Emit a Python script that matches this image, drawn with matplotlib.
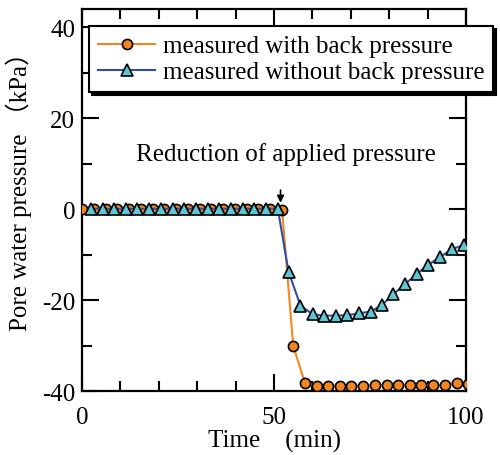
import numpy as np
import matplotlib
matplotlib.use("Agg")
import matplotlib.pyplot as plt
from matplotlib.ticker import MultipleLocator

plt.rcParams['font.family'] = ['Liberation Serif', 'Noto Sans CJK JP', 'DejaVu Sans']
plt.rcParams['axes.unicode_minus'] = False

# with back pressure (circles)
t_with = [0, 3.06, 6.12, 9.18, 12.24, 15.3, 18.36, 21.42, 24.48, 27.54, 30.6,
          33.66, 36.72, 39.78, 42.84, 45.9, 48.96, 52.1,
          55.0, 58.0, 61.1, 64.1, 67.1, 70.1, 73.2, 76.2, 79.3, 82.3, 85.4,
          88.4, 91.5, 94.5, 97.6, 100.6]
p_with = [0, 0, 0, 0, 0, 0, 0, 0, 0, 0, 0, 0, 0, 0, 0, 0, 0, -0.1,
          -30.0, -38.1, -38.8, -38.8, -38.8, -38.8, -38.8, -38.7, -38.7, -38.7,
          -38.7, -38.7, -38.7, -38.7, -38.2, -38.5]

# without back pressure (triangles)
t_without = [2.35, 5.4, 8.4, 11.5, 14.4, 17.5, 20.5, 23.6, 26.6, 29.7, 32.7,
             35.8, 38.8, 41.9, 44.9, 47.9, 51.0,
             53.8, 56.9, 60.1, 63.1, 66.1, 69.1, 72.1, 75.2, 78.2, 81.1, 84.1,
             87.2, 90.2, 93.3, 96.3, 99.6]
p_without = [0.1, 0.1, 0.1, 0.1, 0.1, 0.1, 0.1, 0.1, 0.1, 0.1, 0.1, 0.1, 0.1,
             0.1, 0.1, 0.1, 0.1,
             -13.8, -21.2, -23.1, -23.4, -23.4, -23.3, -22.9, -22.5, -21.0,
             -18.7, -16.5, -14.2, -12.2, -10.5, -8.8, -7.8]

fig = plt.figure(figsize=(5.0, 4.56), dpi=100)
ax = fig.add_axes([0.164, 0.140, 0.768, 0.838])

ax.plot(t_with, p_with, '-o', color='#F4861F', lw=1.5, ms=7.3,
        mfc='#F4861F', mec='black', mew=1.2, label='measured with back pressure',
        zorder=3)
ax.plot(t_without, p_without, '-^', color='#2E4FA3', lw=1.5, ms=9,
        mfc='#5EC6D2', mec='black', mew=1.2,
        label='measured without back pressure', zorder=4)

ax.set_xlim(0, 100)
ax.set_ylim(-40, 44)
ax.xaxis.set_major_locator(MultipleLocator(50))
ax.xaxis.set_minor_locator(MultipleLocator(10))
ax.yaxis.set_major_locator(MultipleLocator(20))
ax.yaxis.set_minor_locator(MultipleLocator(10))
ax.tick_params(which='both', direction='in', top=True, right=True,
               width=1.5, labelsize=18)
ax.tick_params(which='major', length=12)
ax.tick_params(axis='x', which='major', pad=11)
ax.tick_params(axis='y', which='major', pad=5)
ax.tick_params(which='minor', length=7)
for s in ax.spines.values():
    s.set_linewidth(1.6)

ax.set_xlabel('Time\u3000(min)', fontsize=18, labelpad=0)
ax.set_ylabel('Pore water pressure （kPa）', fontsize=18)
ax.yaxis.set_label_coords(-0.13, 0.54)

ax.annotate('', xy=(51.7, 0.8), xytext=(51.7, 4.8),
            arrowprops=dict(arrowstyle='-|>', color='black', lw=1.2,
                            mutation_scale=10))
ax.text(53, 12.3, 'Reduction of applied pressure', fontsize=18,
        ha='center', va='center')

leg = ax.legend(loc='upper left', bbox_to_anchor=(0.178, 1 - 27 / 456),
                bbox_transform=fig.transFigure, fontsize=18, frameon=True,
                fancybox=False, shadow={'color': 'black', 'alpha': 1},
                borderpad=0.35, labelspacing=0.15, handlelength=2.3,
                handletextpad=0.3, borderaxespad=0)
leg.get_frame().set_edgecolor('black')
leg.get_frame().set_linewidth(1.5)

fig.savefig('out.png', dpi=100)
